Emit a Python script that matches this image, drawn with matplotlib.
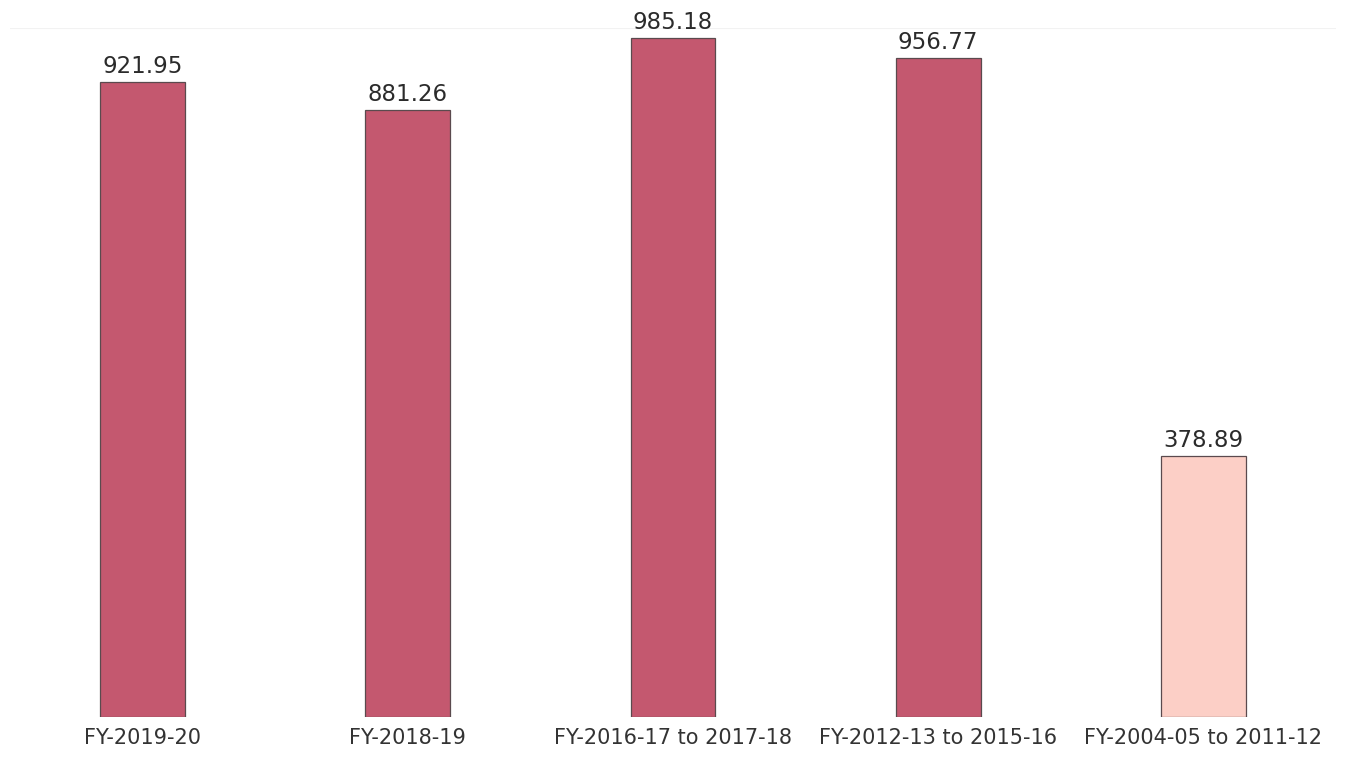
import matplotlib
matplotlib.use("Agg")
from matplotlib import pyplot as plt

periods = ["FY-2019-20", "FY-2018-19", "FY-2016-17 to 2017-18",
           "FY-2012-13 to 2015-16", "FY-2004-05 to 2011-12"]
values = [921.95, 881.26, 985.18, 956.77, 378.89]
bar_colors = ["#C4586F", "#C4586F", "#C4586F", "#C4586F", "#FCCFC6"]

fig = plt.figure(figsize=(13.47, 7.67), dpi=100)
ax = fig.add_axes([10 / 1347, 50 / 767, 1326 / 1347, 689 / 767])

x = range(len(values))
bars = ax.bar(x, values, width=0.32, color=bar_colors,
              edgecolor="#5a4a4e", linewidth=0.9)

for b, v in zip(bars, values):
    ax.annotate(f"{v:.2f}", (b.get_x() + b.get_width() / 2, v),
                xytext=(0, 3), textcoords="offset points",
                ha="center", va="bottom", fontsize=16.5, color="#2b2b2b")

ax.set_xlim(-0.5, 4.5)
ax.set_ylim(0, 1000)
ax.axhline(1000, color="#f2f2f2", linewidth=1.5, zorder=0)
ax.set_xticks(list(x))
ax.set_xticklabels(periods, fontsize=15, color="#333333")
ax.tick_params(axis="x", length=0, pad=8)
ax.set_yticks([])
for s in ax.spines.values():
    s.set_visible(False)

fig.savefig("out.png", dpi=100)
